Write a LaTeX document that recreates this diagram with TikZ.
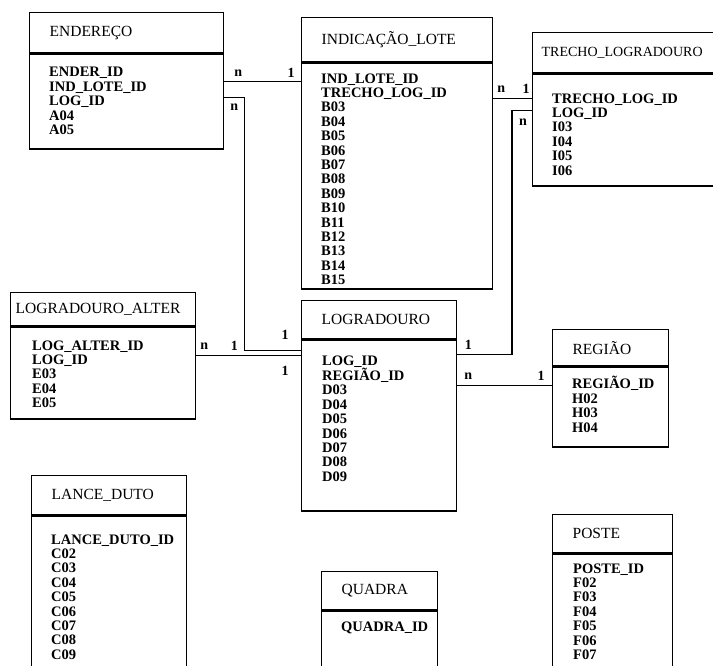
\documentclass[tikz,border=0pt]{standalone}
\usepackage{fontspec}
\setmainfont{Liberation Serif}
\usetikzlibrary{positioning}

\begin{document}
\begin{tikzpicture}[
    x=1pt, y=1pt,
    tabhead/.style={draw, line width=1.3pt, anchor=north west, align=left, inner xsep=20pt, inner ysep=0pt, font=\fontsize{15.5}{16}\selectfont},
    tabbody/.style={draw, line width=1.3pt, anchor=north west, inner sep=0pt},
    fieldlist/.style={anchor=north west, align=left, inner sep=0pt, font=\bfseries\fontsize{14.5}{14.4}\selectfont},
    rel/.style={line width=1.1pt},
    card/.style={font=\bfseries\fontsize{14}{14}\selectfont, inner sep=0pt}
]
\clip (0,0) rectangle (713,-666);

% tables
\node[tabhead, text width=154pt, minimum height=40pt] (enderh) at (29,-12) {ENDEREÇO};
\node[tabbody, minimum width=194pt, minimum height=95pt] (enderb) at (enderh.south west) {};
\node[fieldlist] (enderf) at ([shift={(20pt,-14pt)}]enderb.north west) {ENDER\_ID\\IND\_LOTE\_ID\\LOG\_ID\\A04\\A05};

\node[tabhead, text width=151pt, minimum height=44pt] (indh) at (301,-17) {INDICAÇÃO\_LOTE};
\node[tabbody, minimum width=191pt, minimum height=226pt] (indb) at (indh.south west) {};
\node[fieldlist] (indf) at ([shift={(20pt,-11pt)}]indb.north west) {IND\_LOTE\_ID\\TRECHO\_LOG\_ID\\B03\\B04\\B05\\B06\\B07\\B08\\B09\\B10\\B11\\B12\\B13\\B14\\B15};

\node[tabhead, inner xsep=9pt, text width=200pt, minimum height=40pt, font=\fontsize{14}{16}\selectfont] (trh) at (532,-32) {TRECHO\_LOGRADOURO};
\node[tabbody, minimum width=220pt, minimum height=112pt] (trb) at (trh.south west) {};
\node[fieldlist] (trf) at ([shift={(20pt,-20pt)}]trb.north west) {TRECHO\_LOG\_ID\\LOG\_ID\\I03\\I04\\I05\\I06};

\node[tabhead, inner xsep=5pt, text width=175pt, minimum height=33pt] (alth) at (10,-292) {LOGRADOURO\_ALTER};
\node[tabbody, minimum width=185pt, minimum height=92pt] (altb) at (alth.south west) {};
\node[fieldlist] (altf) at ([shift={(22pt,-14pt)}]altb.north west) {LOG\_ALTER\_ID\\LOG\_ID\\E03\\E04\\E05};

\node[tabhead, text width=115pt, minimum height=38pt] (logh) at (301,-300) {LOGRADOURO};
\node[tabbody, minimum width=155pt, minimum height=171pt] (logb) at (logh.south west) {};
\node[fieldlist] (logf) at ([shift={(21pt,-16pt)}]logb.north west) {LOG\_ID\\REGIÃO\_ID\\D03\\D04\\D05\\D06\\D07\\D08\\D09};

\node[tabhead, text width=76pt, minimum height=36pt] (regh) at (552,-329) {REGIÃO};
\node[tabbody, minimum width=116pt, minimum height=80pt] (regb) at (regh.south west) {};
\node[fieldlist] (regf) at ([shift={(20pt,-10pt)}]regb.north west) {REGIÃO\_ID\\H02\\H03\\H04};

\node[tabhead, text width=115pt, minimum height=39pt] (lanh) at (31,-475) {LANCE\_DUTO};
\node[tabbody, minimum width=155pt, minimum height=200pt] (lanb) at (lanh.south west) {};
\node[fieldlist] (lanf) at ([shift={(20pt,-19pt)}]lanb.north west) {LANCE\_DUTO\_ID\\C02\\C03\\C04\\C05\\C06\\C07\\C08\\C09};

\node[tabhead, text width=76pt, minimum height=38pt] (quah) at (321,-571) {QUADRA};
\node[tabbody, minimum width=116pt, minimum height=120pt] (quab) at (quah.south west) {};
\node[fieldlist] (quaf) at ([shift={(20pt,-11pt)}]quab.north west) {QUADRA\_ID};

\node[tabhead, text width=80pt, minimum height=38pt] (posh) at (552,-514) {POSTE};
\node[tabbody, minimum width=120pt, minimum height=180pt] (posb) at (posh.south west) {};
\node[fieldlist] (posf) at ([shift={(21pt,-10pt)}]posb.north west) {POSTE\_ID\\F02\\F03\\F04\\F05\\F06\\F07};

% relationships
\coordinate (c1) at ([yshift=-28pt]enderb.north east);
\coordinate (c2) at ([yshift=-44pt]enderb.north east);
\coordinate (c2b) at ([yshift=-11pt]logb.north west);
\coordinate (c3) at ([yshift=-29pt]altb.north east);
\coordinate (c4) at ([yshift=-36pt]indb.north east);
\coordinate (c5) at ([yshift=-37pt]trb.north west);
\coordinate (c5b) at ([yshift=-15pt]logb.north east);
\coordinate (c6) at ([yshift=-46pt]logb.north east);

\draw[rel] (c1) -- node[card, pos=0, xshift=14pt, yshift=8pt] (l1a) {n}
    node[card, pos=1, xshift=-10pt, yshift=8pt] (l1b) {1} (c1 -| indb.west);
\draw[rel] (c2) -- node[card, pos=0, xshift=10pt, yshift=-10pt] (l2a) {n} ++(20,0)
    |- node[card, pos=1, xshift=-16pt, yshift=15pt] (l2b) {1} (c2b);
\draw[rel] (c3) -- node[card, pos=0, xshift=8pt, yshift=9pt] (l3a) {n}
    node[card, pos=0, xshift=38pt, yshift=9pt] (l3b) {1}
    node[card, pos=1, xshift=-16pt, yshift=-16pt] (l3c) {1} (c3 -| logb.west);
\draw[rel] (c4) -- node[card, pos=0, xshift=8pt, yshift=9pt] (l4a) {n}
    node[card, pos=1, xshift=-6pt, yshift=9pt] (l4b) {1} (c4 -| trb.west);
\draw[rel] (c5) -- node[card, pos=0, xshift=-9pt, yshift=-12pt] (l5a) {n} ++(-20,0)
    |- node[card, pos=1, xshift=11pt, yshift=9pt] (l5b) {1} (c5b);
\draw[rel] (c6) -- node[card, pos=0, xshift=11pt, yshift=9pt] (l6a) {n}
    node[card, pos=1, xshift=-11pt, yshift=9pt] (l6b) {1} (c6 -| regb.west);
\end{tikzpicture}
\end{document}
